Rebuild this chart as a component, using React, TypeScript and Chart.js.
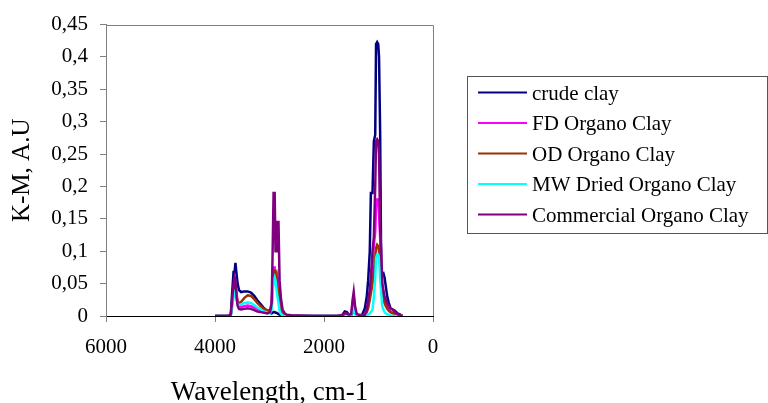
import React, { useEffect, useRef } from "react";
import { Chart, registerables } from "chart.js";

Chart.register(...registerables);

const wavenumbers = [
  4000, 3760, 3710, 3690, 3660, 3640, 3625, 3605, 3585, 3560, 3520, 3460, 3400, 3340, 3280, 3220,
  3160, 3100, 3040, 2990, 2960, 2945, 2925, 2905, 2890, 2870, 2855, 2835, 2815, 2790, 2760, 2720,
  2680, 2600, 2200, 1750, 1660, 1620, 1580, 1540, 1500, 1475, 1455, 1430, 1400, 1300, 1250, 1215,
  1190, 1160, 1140, 1110, 1085, 1060, 1045, 1025, 1005, 990, 970, 950, 930, 910, 890, 865, 840,
  810, 780, 740, 700, 650, 600, 560,
];

const crudeClay = [
  0, 0, 0.003, 0.03, 0.068, 0.068, 0.082, 0.065, 0.05, 0.04, 0.037, 0.038, 0.038, 0.036, 0.031, 0.024,
  0.018, 0.012, 0.007, 0.005, 0.004, 0.005, 0.006, 0.006, 0.005, 0.005, 0.004, 0.003, 0.002, 0.001, 0.001, 0,
  0, 0, 0, 0, 0.002, 0.007, 0.006, 0.002, 0.001, 0.005, 0.01, 0.004, 0.001, 0.002, 0.012, 0.03,
  0.055, 0.1, 0.19, 0.19, 0.27, 0.28, 0.42, 0.423, 0.42, 0.4, 0.285, 0.07, 0.065, 0.066, 0.06, 0.045, 0.03,
  0.02, 0.012, 0.01, 0.008, 0.004, 0.002, 0,
];

const fdOrganoClay = [
  0, 0, 0.002, 0.015, 0.035, 0.045, 0.05, 0.035, 0.022, 0.016, 0.014, 0.015, 0.016, 0.015, 0.013, 0.011,
  0.009, 0.007, 0.008, 0.009, 0.02, 0.05, 0.075, 0.075, 0.06, 0.05, 0.06, 0.05, 0.02, 0.008, 0.004, 0.002,
  0.001, 0, 0, 0, 0.001, 0.003, 0.003, 0.001, 0.002, 0.02, 0.03, 0.01, 0.002, 0, 0.003, 0.008,
  0.015, 0.03, 0.05, 0.08, 0.11, 0.13, 0.17, 0.18, 0.18, 0.16, 0.12, 0.07, 0.045, 0.035, 0.025, 0.02, 0.015,
  0.01, 0.007, 0.005, 0.004, 0.002, 0.001, 0,
];

const odOrganoClay = [
  0, 0, 0.002, 0.017, 0.04, 0.045, 0.045, 0.03, 0.022, 0.02, 0.022, 0.028, 0.032, 0.031, 0.026, 0.02,
  0.015, 0.011, 0.009, 0.008, 0.015, 0.04, 0.06, 0.07, 0.07, 0.06, 0.045, 0.04, 0.015, 0.006, 0.003, 0.001,
  0, 0, 0, 0, 0.001, 0.003, 0.003, 0.001, 0.001, 0.012, 0.02, 0.006, 0.001, 0, 0.002, 0.006,
  0.012, 0.025, 0.035, 0.05, 0.07, 0.09, 0.105, 0.11, 0.108, 0.1, 0.08, 0.05, 0.035, 0.028, 0.02, 0.015, 0.011,
  0.008, 0.006, 0.004, 0.003, 0.002, 0.001, 0,
];

const mwDriedOrganoClay = [
  0, 0, 0.001, 0.01, 0.03, 0.038, 0.04, 0.025, 0.018, 0.017, 0.018, 0.02, 0.021, 0.02, 0.017, 0.013,
  0.01, 0.007, 0.005, 0.004, 0.01, 0.03, 0.055, 0.06, 0.055, 0.04, 0.03, 0.02, 0.008, 0.003, 0.001, 0,
  0, 0, 0, 0, 0, 0.002, 0.002, 0.001, 0, 0.008, 0.012, 0.003, 0, 0, 0, 0.001,
  0.002, 0.004, 0.006, 0.01, 0.03, 0.06, 0.09, 0.095, 0.095, 0.09, 0.06, 0.035, 0.015, 0.01, 0.006, 0.004, 0.003,
  0.002, 0.001, 0, 0, 0, 0, 0,
];

const commercialOrganoClay = [
  0, 0, 0.002, 0.02, 0.05, 0.06, 0.055, 0.03, 0.016, 0.011, 0.01, 0.011, 0.012, 0.011, 0.009, 0.007,
  0.006, 0.005, 0.004, 0.006, 0.02, 0.088, 0.19, 0.19, 0.1, 0.1, 0.145, 0.145, 0.055, 0.027, 0.01, 0.004,
  0.002, 0.001, 0, 0, 0.001, 0.004, 0.004, 0.002, 0.003, 0.025, 0.037, 0.015, 0.003, 0, 0.002, 0.01,
  0.025, 0.04, 0.06, 0.1, 0.122, 0.2, 0.27, 0.273, 0.27, 0.25, 0.137, 0.1, 0.05, 0.04, 0.03, 0.025, 0.02,
  0.015, 0.012, 0.01, 0.006, 0.003, 0.001, 0,
];

const seriesLabels = [
  "crude clay",
  "FD Organo Clay",
  "OD Organo Clay",
  "MW Dried Organo Clay",
  "Commercial Organo Clay",
];
const seriesColors = ["#000080", "#FF00FF", "#993300", "#00FFFF", "#800080"];
const seriesValues = [crudeClay, fdOrganoClay, odOrganoClay, mwDriedOrganoClay, commercialOrganoClay];

const xTickValues = [0, 2000, 4000, 6000];
const xTickLabels = ["0", "2000", "4000", "6000"];
const yTickValues = [0, 0.05, 0.1, 0.15, 0.2, 0.25, 0.3, 0.35, 0.4, 0.45];
const yTickLabels = ["0", "0,05", "0,1", "0,15", "0,2", "0,25", "0,3", "0,35", "0,4", "0,45"];

const FONT = '"Liberation Serif", "Times New Roman", serif';

const framePlugin = {
  id: "frame",
  afterDatasetsDraw(chart: any) {
    const { ctx, chartArea } = chart;
    ctx.save();
    ctx.strokeStyle = "#808080";
    ctx.lineWidth = 1;
    ctx.beginPath();
    const top = Math.round(chartArea.top) + 0.5;
    const right = Math.round(chartArea.right) + 0.5;
    ctx.moveTo(Math.round(chartArea.left) + 0.5, top);
    ctx.lineTo(right, top);
    ctx.lineTo(right, Math.round(chartArea.bottom));
    ctx.stroke();
    ctx.restore();
  },
};

const boxLegendPlugin = {
  id: "boxLegend",
  afterDraw(chart: any) {
    const { ctx } = chart;
    ctx.save();
    ctx.strokeStyle = "#555555";
    ctx.lineWidth = 1;
    ctx.strokeRect(467.5, 76.5, 300, 157);
    ctx.font = `21px ${FONT}`;
    ctx.textAlign = "left";
    ctx.textBaseline = "alphabetic";
    chart.data.datasets.forEach((ds: any, i: number) => {
      const y = 92.5 + i * 30.5;
      ctx.strokeStyle = ds.borderColor;
      ctx.lineWidth = 2;
      ctx.beginPath();
      ctx.moveTo(478, y);
      ctx.lineTo(527, y);
      ctx.stroke();
      ctx.fillStyle = "#000000";
      ctx.fillText(ds.label, 532, y + 7);
    });
    ctx.restore();
  },
};

export default function App() {
  const canvasRef = useRef<HTMLCanvasElement | null>(null);

  useEffect(() => {
    if (!canvasRef.current) return;
    const datasets = seriesLabels.map((label, s) => ({
      label,
      data: wavenumbers.map((w, i) => ({ x: w, y: seriesValues[s][i] })),
      borderColor: seriesColors[s],
      backgroundColor: seriesColors[s],
      borderWidth: 2.5,
      pointRadius: 0,
      tension: 0,
      fill: false,
      order: seriesLabels.length - s,
    }));

    const chart = new Chart(canvasRef.current, {
      type: "line",
      data: { datasets },
      plugins: [framePlugin, boxLegendPlugin],
      options: {
        animation: false,
        responsive: false,
        devicePixelRatio: 1,
        layout: { padding: { left: 0, right: 335, top: 23, bottom: 0 } },
        plugins: {
          legend: { display: false },
          tooltip: { enabled: false },
        },
        scales: {
          x: {
            type: "linear",
            reverse: true,
            min: 0,
            max: 6000,
            afterBuildTicks: (scale: any) => {
              scale.ticks = xTickValues.map((v) => ({ value: v }));
            },
            afterFit: (scale: any) => {
              scale.height = 87;
            },
            ticks: {
              color: "#000000",
              font: { family: FONT, size: 21 },
              padding: 13,
              maxRotation: 0,
              autoSkip: false,
              callback: (v: any) => xTickLabels[xTickValues.indexOf(Number(v))],
            },
            grid: {
              display: true,
              drawOnChartArea: false,
              drawTicks: true,
              tickLength: 6,
              color: "#808080",
              lineWidth: 1,
            },
            border: { display: true, color: "#000000", width: 1 },
            title: {
              display: true,
              text: "Wavelength, cm-1",
              color: "#000000",
              font: { family: FONT, size: 27, lineHeight: 1 },
              padding: { top: 0, bottom: -3 },
            },
          },
          y: {
            type: "linear",
            min: 0,
            max: 0.45,
            afterBuildTicks: (scale: any) => {
              scale.ticks = yTickValues.map((v) => ({ value: v }));
            },
            afterFit: (scale: any) => {
              scale.width = 106;
            },
            ticks: {
              color: "#000000",
              font: { family: FONT, size: 21 },
              padding: 12,
              autoSkip: false,
              callback: (v: any) => yTickLabels[yTickValues.indexOf(Number(v))],
            },
            grid: {
              display: true,
              drawOnChartArea: false,
              drawTicks: true,
              tickLength: 6,
              color: "#808080",
              lineWidth: 1,
            },
            border: { display: true, color: "#808080", width: 1 },
            title: {
              display: true,
              text: "K-M, A.U",
              color: "#000000",
              font: { family: FONT, size: 25, lineHeight: 1 },
              padding: { top: 10, bottom: 0 },
            },
          },
        },
      },
    });
    return () => chart.destroy();
  }, []);

  return (
    <div style={{ position: "absolute", left: 0, top: 0, width: 768, height: 403, background: "#ffffff" }}>
      <canvas ref={canvasRef} width={768} height={403} />
    </div>
  );
}
